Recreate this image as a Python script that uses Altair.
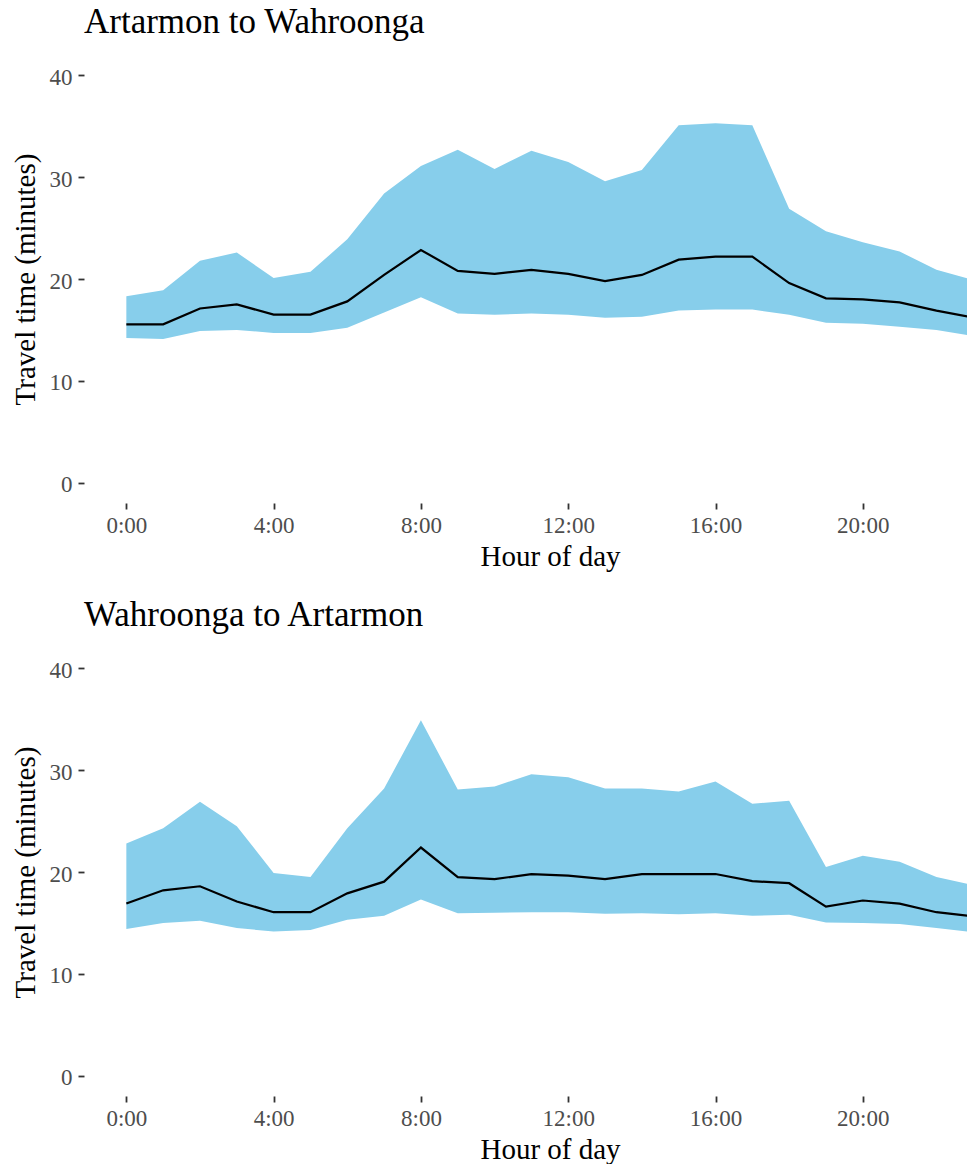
import altair as alt
import pandas as pd

# Hour of day (0-23)
hours = list(range(24))

# Artarmon -> Wahroonga: lower band, median, upper band (minutes)
aw_low = [14.2, 14.1, 14.9, 15.0, 14.7, 14.7, 15.2, 16.7, 18.2, 16.6, 16.5, 16.6,
          16.5, 16.2, 16.3, 16.9, 17.0, 17.0, 16.5, 15.7, 15.6, 15.3, 15.0, 14.4]
aw_med = [15.55, 15.55, 17.1, 17.5, 16.5, 16.5, 17.8, 20.4, 22.85, 20.8, 20.5, 20.9,
          20.5, 19.8, 20.4, 21.9, 22.2, 22.2, 19.6, 18.1, 18.0, 17.7, 16.9, 16.2]
aw_high = [18.3, 18.9, 21.8, 22.6, 20.1, 20.7, 23.9, 28.4, 31.1, 32.7, 30.8, 32.6,
           31.5, 29.6, 30.7, 35.1, 35.3, 35.1, 26.9, 24.7, 23.6, 22.7, 20.9, 19.9]

# Wahroonga -> Artarmon: lower band, median, upper band (minutes)
wa_low = [14.4, 15.0, 15.2, 14.5, 14.15, 14.3, 15.3, 15.7, 17.3, 15.95, 16.0, 16.05,
          16.05, 15.9, 15.95, 15.85, 15.95, 15.7, 15.8, 15.05, 15.0, 14.9, 14.5, 14.1]
wa_med = [16.9, 18.2, 18.6, 17.1, 16.05, 16.05, 17.9, 19.05, 22.4, 19.5, 19.3, 19.8,
          19.65, 19.3, 19.8, 19.8, 19.8, 19.1, 18.9, 16.6, 17.2, 16.9, 16.05, 15.65]
wa_high = [22.8, 24.3, 26.9, 24.5, 19.9, 19.5, 24.3, 28.2, 34.9, 28.1, 28.4, 29.6,
           29.3, 28.2, 28.2, 27.9, 28.9, 26.7, 27.0, 20.5, 21.6, 21.0, 19.5, 18.7]

hour_ticks = [0, 4, 8, 12, 16, 20]
minute_ticks = [0, 10, 20, 30, 40]

SERIF = "Liberation Serif"
BAND = "#87CEEB"


def panel(low, med, high, title):
    df = pd.DataFrame({"hour": hours, "low": low, "med": med, "high": high})
    x = alt.X(
        "hour:Q",
        scale=alt.Scale(domain=[-1.15, 22.83], nice=False, zero=False),
        axis=alt.Axis(values=hour_ticks, labelExpr="datum.value + ':00'",
                      title="Hour of day", titleX=466, titleAlign="center"),
    )
    y_axis = alt.Axis(values=minute_ticks, title="Travel time (minutes)")
    y_scale = alt.Scale(domain=[-2, 42], nice=False, zero=False)
    band = alt.Chart(df).mark_area(color=BAND, clip=True).encode(
        x=x,
        y=alt.Y("low:Q", scale=y_scale, axis=y_axis),
        y2="high:Q",
    )
    line = alt.Chart(df).mark_line(color="black", strokeWidth=2.2, clip=True).encode(
        x="hour:Q",
        y="med:Q",
    )
    return alt.layer(band, line).properties(
        width=883,
        height=448,
        title=alt.TitleParams(title, anchor="start", frame="group", fontSize=35,
                              font=SERIF, fontWeight="normal", color="black",
                              offset=15),
    )


chart = alt.vconcat(
    panel(aw_low, aw_med, aw_high, "Artarmon to Wahroonga"),
    panel(wa_low, wa_med, wa_high, "Wahroonga to Artarmon"),
    spacing=27,
).properties(
    padding={"left": 11, "top": 5, "right": 0, "bottom": 0},
).configure_view(
    stroke=None,
).configure_axis(
    domain=False,
    grid=False,
    tickColor="#333333",
    tickSize=6,
    tickWidth=1.8,
    labelFont=SERIF,
    labelFontSize=23,
    labelColor="#4D4D4D",
    titleFont=SERIF,
    titleFontSize=29,
    titleFontWeight="normal",
    titleColor="black",
).configure_axisX(
    labelPadding=5,
    titlePadding=5,
).configure_axisY(
    labelPadding=6,
    labelOffset=2,
    titlePadding=9,
)

chart.save("out.html", embed_options={"renderer": "svg", "actions": False})
